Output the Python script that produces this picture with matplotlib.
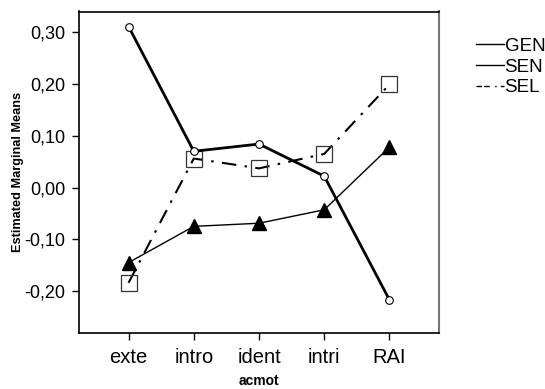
import matplotlib
matplotlib.use("Agg")
import matplotlib.pyplot as plt
from matplotlib.lines import Line2D

plt.rcParams['font.family'] = ['Liberation Sans', 'DejaVu Sans']

# categories on the x axis
categories = ['exte', 'intro', 'ident', 'intri', 'RAI']

# estimated marginal means for each group
gen_means = [0.311, 0.070, 0.084, 0.022, -0.217]
sen_means = [-0.145, -0.075, -0.069, -0.043, 0.078]
sel_means = [-0.184, 0.056, 0.037, 0.065, 0.199]

y_ticks = [-0.20, -0.10, 0.00, 0.10, 0.20, 0.30]
y_tick_labels = ['-0,20', '-0,10', '0,00', '0,10', '0,20', '0,30']

fig = plt.figure(figsize=(5.45, 3.89), dpi=100)
ax = fig.add_axes([79 / 545, 1 - 333 / 389, 360 / 545, 321.5 / 389])

x = list(range(len(categories)))

# GEN: thick solid line with open circles
ax.plot(x, gen_means, color='black', linewidth=2.0, marker='o', markersize=5.5,
        markerfacecolor='white', markeredgecolor='black', markeredgewidth=0.8, zorder=4)
# SEN: thin solid line with filled triangles
ax.plot(x, sen_means, color='black', linewidth=1.0, marker='^', markersize=10,
        markerfacecolor='black', markeredgecolor='black', zorder=3)
# SEL: dash-dot line with open squares
ax.plot(x, sel_means, color='black', linewidth=1.5, linestyle=(0, (7, 4, 1.2, 4)),
        marker='s', markersize=11, markerfacecolor='none', markeredgecolor='#333333',
        markeredgewidth=0.9, zorder=2)

ax.set_xlim(-0.76, 4.76)
ax.set_ylim(-0.281, 0.340)
ax.set_xticks(x)
ax.set_xticklabels(categories, fontsize=14.5)
ax.set_yticks(y_ticks)
ax.set_yticklabels(y_tick_labels, fontsize=13)
ax.tick_params(direction='out', length=5, width=1, pad=5)
ax.tick_params(axis='x', pad=6)

for side in ['top', 'left', 'bottom']:
    ax.spines[side].set_linewidth(1.2)
    ax.spines[side].set_color('black')
ax.spines['right'].set_linewidth(1.5)
ax.spines['right'].set_color('#777777')

ax.set_xlabel('acmot', fontsize=10, fontweight='bold', labelpad=5)
ax.set_ylabel('Estimated Marginal Means', fontsize=9.2, fontweight='bold', labelpad=0)

handles = [
    Line2D([], [], color='black', linewidth=1.0),
    Line2D([], [], color='black', linewidth=1.0),
    Line2D([], [], color='black', linewidth=1.0, linestyle=(0, (4, 1.5, 4, 4, 1, 3))),
]
fig.legend(handles, ['GEN', 'SEN', 'SEL'], loc='upper left',
           bbox_to_anchor=(468 / 545, 1 - 30 / 389), frameon=False, fontsize=13.5,
           handlelength=1.5, handletextpad=0.05, labelspacing=0.2, borderaxespad=0)

fig.savefig('out.png', dpi=100)
